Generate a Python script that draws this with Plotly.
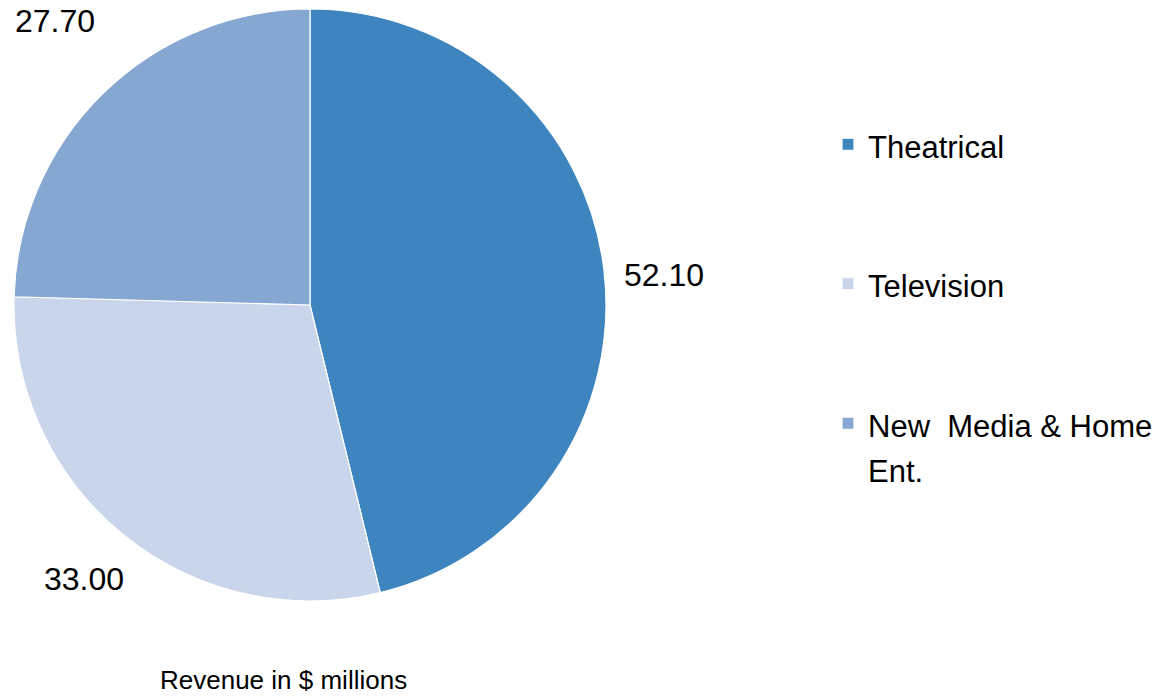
import math
import plotly.graph_objects as go

categories = ["Theatrical", "Television", "New Media & Home Ent."]
values = [52.10, 33.00, 27.70]
value_labels = ["52.10", "33.00", "27.70"]
colors = ["#3E84BF", "#C9D5EA", "#86A7D1"]

W, H = 1162, 697
FONT = "Liberation Sans, Arial, sans-serif"

# legend entries: visible text at 31px inside a 35px legend (for wider item spacing)
SPAN = '<span style="font-size:31px">{}</span>'
legend_labels = [
    SPAN.format("Theatrical") + "<br> <br> ",
    SPAN.format("Television") + "<br> <br> ",
    SPAN.format("New  Media &amp; Home") + "<br>" + SPAN.format("Ent."),
]

# pie geometry (pixels)
cx, cy, R = 310, 305, 296
label_factor = [1.2, 1.2, 1.29]
angle_offsets_deg = [2.0, 0.5, 2.3]

fig = go.Figure()
fig.add_trace(go.Pie(
    labels=legend_labels,
    values=values,
    sort=False,
    direction="clockwise",
    rotation=0,
    textinfo="none",
    hoverinfo="value",
    marker=dict(colors=colors, line=dict(color="white", width=1.2)),
    domain=dict(x=[(cx - R) / W, (cx + R) / W], y=[1 - (cy + R) / H, 1 - (cy - R) / H]),
))

# value labels placed radially outside each slice
total = sum(values)
cum = 0.0
annotations = []
for v, txt, f, off in zip(values, value_labels, label_factor, angle_offsets_deg):
    mid = (cum + v / 2) / total * 2 * math.pi + math.radians(off)
    cum += v
    px = cx + f * R * math.sin(mid)
    py = cy - f * R * math.cos(mid)
    annotations.append(dict(
        x=px / W, y=1 - py / H, xref="paper", yref="paper",
        text=txt, showarrow=False, xanchor="center", yanchor="middle",
        font=dict(family=FONT, size=32, color="black"),
    ))

annotations.append(dict(
    x=283 / W, y=0.0, xref="paper", yref="paper", xanchor="center", yanchor="bottom",
    text="Revenue in $ millions", showarrow=False,
    font=dict(family=FONT, size=26, color="black"),
))

fig.update_layout(
    width=W, height=H,
    margin=dict(l=0, r=0, t=0, b=0, autoexpand=False),
    paper_bgcolor="white",
    plot_bgcolor="white",
    font=dict(family=FONT, color="black"),
    showlegend=True,
    legend=dict(
        xref="container", yref="container",
        x=828 / W, y=0.835, xanchor="left", yanchor="top",
        valign="top",
        maxheight=680,
        font=dict(family=FONT, size=35, color="black"),
        bgcolor="rgba(0,0,0,0)",
    ),
    annotations=annotations,
)

fig.write_html("out.html")
